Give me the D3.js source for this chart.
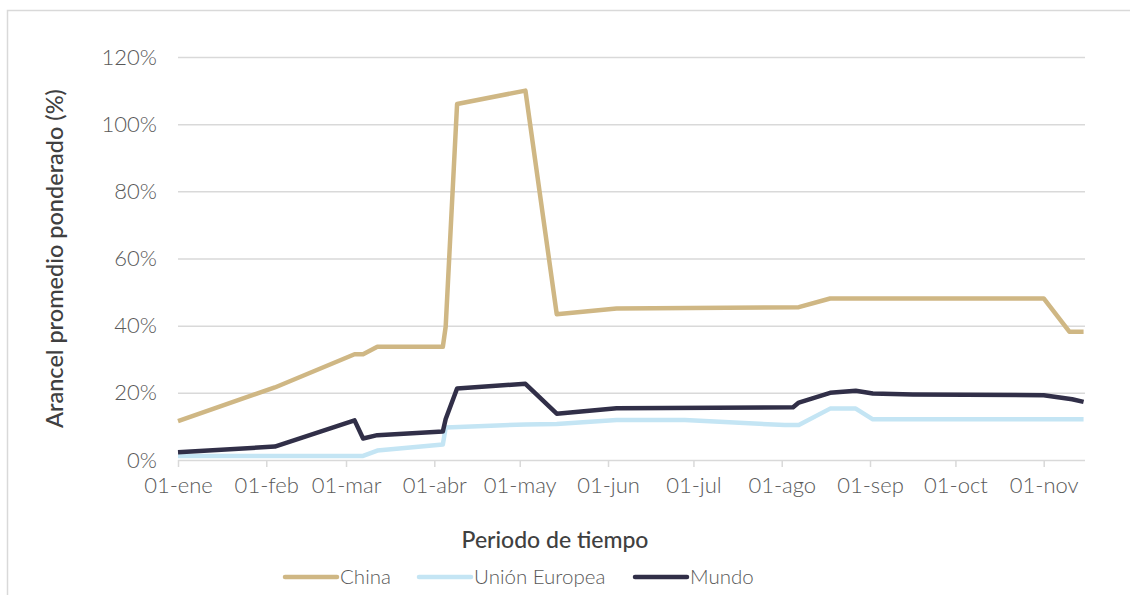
<!DOCTYPE html>
<html>
<head>
<meta charset="utf-8">
<script src="https://cdn.jsdelivr.net/npm/d3@7"></script>
<style>
  body { margin: 0; background: #fff; }
  text { font-family: Lato, "Open Sans", sans-serif; }
</style>
</head>
<body>
<div id="chart"></div>
<script>
// series data (date, % arancel)
var chinaDates = ["2025-01-01","2025-02-04","2025-03-04","2025-03-07","2025-03-12","2025-04-04","2025-04-05","2025-04-09","2025-05-03","2025-05-14","2025-06-04","2025-08-07","2025-08-18","2025-11-01","2025-11-10","2025-11-15"];
var chinaValues = [11.6, 21.6, 31.5, 31.5, 33.7, 33.7, 39.7, 106, 110, 43.4, 45.1, 45.5, 48.1, 48.1, 38.2, 38.2];

var ueDates = ["2025-01-01","2025-03-07","2025-03-12","2025-04-04","2025-04-05","2025-05-03","2025-05-14","2025-06-04","2025-06-28","2025-08-02","2025-08-07","2025-08-18","2025-08-27","2025-09-02","2025-11-15"];
var ueValues = [1.2, 1.2, 2.8, 4.6, 9.7, 10.6, 10.7, 11.9, 11.9, 10.4, 10.4, 15.3, 15.3, 12.1, 12.1];

var mundoDates = ["2025-01-01","2025-02-04","2025-03-04","2025-03-07","2025-03-12","2025-04-04","2025-04-05","2025-04-09","2025-05-03","2025-05-14","2025-06-04","2025-08-05","2025-08-07","2025-08-18","2025-08-27","2025-09-02","2025-09-16","2025-11-01","2025-11-11","2025-11-15"];
var mundoValues = [2.3, 4.0, 11.8, 6.4, 7.4, 8.5, 12.2, 21.3, 22.7, 13.8, 15.4, 15.7, 17.1, 20.0, 20.6, 19.8, 19.5, 19.3, 18.1, 17.3];

var seriesNames = ["China", "Unión Europea", "Mundo"];
var seriesColors = ["#cfb784", "#c4e5f4", "#312f48"];
var monthLabels = ["ene","feb","mar","abr","may","jun","jul","ago","sep","oct","nov","dic"];
var yTicks = [0, 20, 40, 60, 80, 100, 120];

var W = 1130, H = 595;
var margin = {top: 57, right: 45, bottom: 135, left: 178};
var width = W - margin.left - margin.right,
    height = H - margin.top - margin.bottom;

var parseDate = d3.timeParse("%Y-%m-%d");
function build(dates, vals) {
  return dates.map(function(d, i) { return {date: parseDate(d), value: vals[i]}; });
}
var data = [
  {name: seriesNames[0], color: seriesColors[0], values: build(chinaDates, chinaValues)},
  {name: seriesNames[1], color: seriesColors[1], values: build(ueDates, ueValues)},
  {name: seriesNames[2], color: seriesColors[2], values: build(mundoDates, mundoValues)}
];

var svg = d3.select("#chart").append("svg")
  .attr("width", W)
  .attr("height", H);

// frame
svg.append("path")
  .attr("d", "M7.5," + H + "V10.5H" + W)
  .attr("fill", "none")
  .attr("stroke", "#d9d9d9")
  .attr("stroke-width", 1.5);

var g = svg.append("g")
  .attr("transform", "translate(" + margin.left + "," + margin.top + ")");

var xScale = d3.scaleTime()
  .domain([new Date(2025, 0, 1), new Date(2025, 10, 15, 12)])
  .range([0, width]);

var yScale = d3.scaleLinear()
  .domain([0, 120])
  .range([height, 0]);

/* gridlines + y axis */
var yAxis = d3.axisLeft(yScale)
  .tickValues(yTicks)
  .tickSize(-width)
  .tickPadding(21)
  .tickFormat(function(d) { return d + "%"; });

g.append("g")
  .attr("class", "yaxis")
  .call(yAxis)
  .call(function(s) { s.select(".domain").remove(); })
  .call(function(s) {
    s.selectAll("line").attr("stroke", "#d9d9d9").attr("stroke-width", 1.5);
    s.selectAll("text").attr("fill", "#595959").style("font-size", "22px").style("font-weight", 300);
  });

/* x axis */
var xAxis = d3.axisBottom(xScale)
  .ticks(d3.timeMonth.every(1))
  .tickSize(7)
  .tickPadding(10)
  .tickFormat(function(d) { return "01-" + monthLabels[d.getMonth()]; });

g.append("g")
  .attr("class", "xaxis")
  .attr("transform", "translate(0," + height + ")")
  .call(xAxis)
  .call(function(s) {
    s.select(".domain").remove();
    s.selectAll("line").attr("stroke", "#d9d9d9").attr("stroke-width", 1.5);
    s.selectAll("text").attr("fill", "#595959").style("font-size", "22px").style("font-weight", 300);
  });

/* lines */
var line = d3.line()
  .x(function(d) { return xScale(d.date); })
  .y(function(d) { return yScale(d.value); });

g.append("g").attr("class", "lines")
  .selectAll("path")
  .data(data).enter()
  .append("path")
  .attr("d", function(d) { return line(d.values); })
  .attr("fill", "none")
  .attr("stroke", function(d) { return d.color; })
  .attr("stroke-width", 4.5)
  .attr("stroke-linejoin", "round");

/* axis titles */
svg.append("text")
  .attr("transform", "translate(63," + (margin.top + height / 2) + ") rotate(-90)")
  .attr("text-anchor", "middle")
  .attr("fill", "#404040")
  .style("font-size", "23.5px")
  .style("font-weight", 500)
  .text("Arancel promedio ponderado (%)");

svg.append("text")
  .attr("x", 555)
  .attr("y", 548)
  .attr("text-anchor", "middle")
  .attr("fill", "#404040")
  .style("font-size", "23px")
  .style("font-weight", 500)
  .text("Periodo de tiempo");

/* legend */
var legendX = [285, 419, 635];
var legend = svg.selectAll(".legend")
  .data(data).enter()
  .append("g")
  .attr("class", "legend")
  .attr("transform", function(d, i) { return "translate(" + legendX[i] + ",577)"; });

legend.append("line")
  .attr("x1", 0).attr("x2", 52)
  .attr("stroke", function(d) { return d.color; })
  .attr("stroke-width", 4.5)
  .attr("stroke-linecap", "round");

legend.append("text")
  .attr("x", 55)
  .attr("y", 7)
  .attr("fill", "#595959")
  .style("font-size", "20.5px")
  .style("font-weight", 300)
  .text(function(d) { return d.name; });
</script>
</body>
</html>
